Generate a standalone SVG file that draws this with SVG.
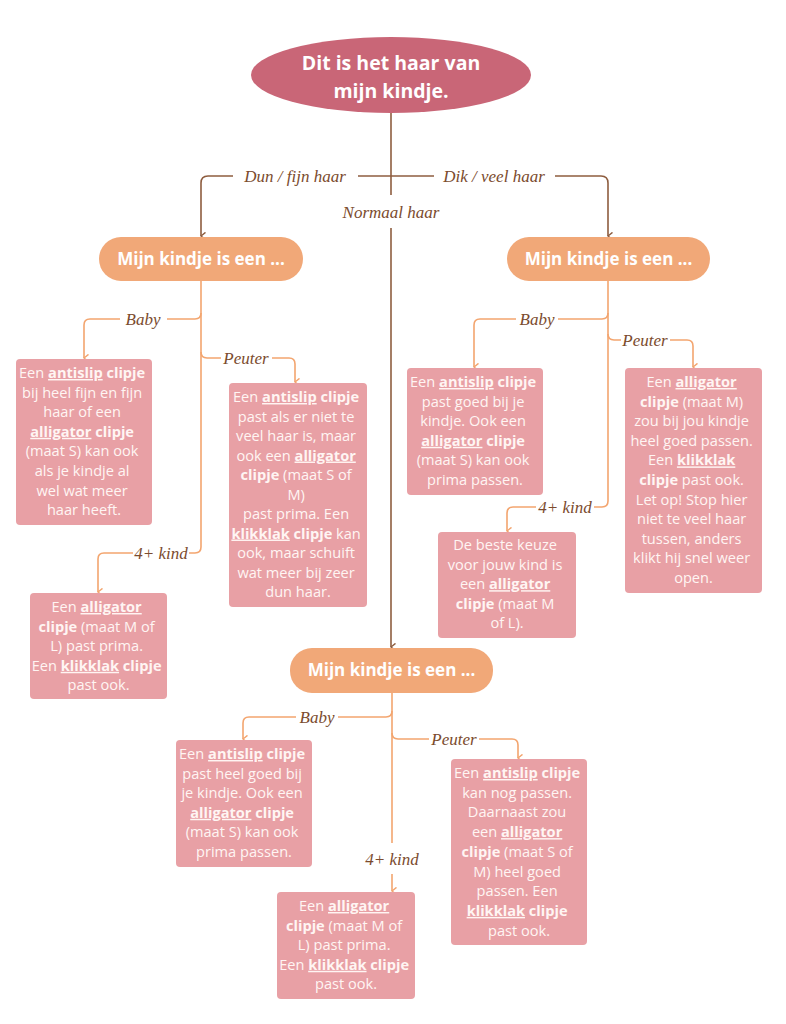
<svg xmlns="http://www.w3.org/2000/svg" width="786" height="1024" viewBox="0 0 786 1024">
<defs>
<style>
.bg{fill:#ffffff}
.box{fill:#e8a0a5}
.pill{fill:#f1a878}
.top{fill:#c96677}
.bt{font-family:"Open Sans","Lato",sans-serif;font-size:14.6px;fill:#fff5f3;text-anchor:middle}
.b{font-weight:bold}
.u{font-weight:bold;text-decoration:underline}
.pt{font-family:"Open Sans","Lato",sans-serif;font-size:17px;font-weight:bold;fill:#ffffff;text-anchor:middle}
.tt{font-family:"Open Sans","Lato",sans-serif;font-size:19.5px;font-weight:bold;fill:#ffffff;text-anchor:middle}
.lab{font-family:"Liberation Serif",serif;font-style:italic;font-size:17px;fill:#7b4b2e;text-anchor:middle}
.cb{fill:none;stroke:#8e5d3f;stroke-width:1.6}
.co{fill:none;stroke:#f3a56f;stroke-width:1.6}
</style>
<marker id="ab" viewBox="0 0 10 10" refX="5" refY="9" markerWidth="9" markerHeight="9" orient="auto-start-reverse" markerUnits="userSpaceOnUse">
<path d="M1,4 L5,9 L9,4" fill="none" stroke="#8e5d3f" stroke-width="1.6"/>
</marker>
<marker id="ao" viewBox="0 0 10 10" refX="5" refY="9" markerWidth="9" markerHeight="9" orient="auto-start-reverse" markerUnits="userSpaceOnUse">
<path d="M1,4 L5,9 L9,4" fill="none" stroke="#f3a56f" stroke-width="1.6"/>
</marker>
</defs>
<rect class="bg" x="0" y="0" width="786" height="1024"/>

<g id="connectors">
<path class="cb" d="M391,113 V195"/>
<path class="cb" d="M358,176 H434"/>
<path class="cb" d="M391,228 V647" marker-end="url(#ab)"/>
<path class="cb" d="M233,176 H208 Q201,176 201,183 V236" marker-end="url(#ab)"/>
<path class="cb" d="M555,176 H601 Q608,176 608,183 V236" marker-end="url(#ab)"/>

<path class="co" d="M201,281 V547 Q201,553 195,553 H189"/>
<path class="co" d="M133,553 H104 Q98,553 98,559 V592" marker-end="url(#ao)"/>
<path class="co" d="M201,313 Q201,319 195,319 H167"/>
<path class="co" d="M120,319 H90 Q84,319 84,325 V358" marker-end="url(#ao)"/>
<path class="co" d="M201,352 Q201,358 207,358 H221"/>
<path class="co" d="M272,358 H289 Q295,358 295,364 V382" marker-end="url(#ao)"/>

<path class="co" d="M608,281 V501 Q608,507 602,507 H594"/>
<path class="co" d="M536,507 H513 Q507,507 507,513 V531" marker-end="url(#ao)"/>
<path class="co" d="M608,313 Q608,319 602,319 H558"/>
<path class="co" d="M516,319 H480 Q474,319 474,325 V367" marker-end="url(#ao)"/>
<path class="co" d="M608,334 Q608,340 614,340 H621"/>
<path class="co" d="M670,340 H687 Q693,340 693,346 V367" marker-end="url(#ao)"/>

<path class="co" d="M392,693 V843"/>
<path class="co" d="M392,874 V891" marker-end="url(#ao)"/>
<path class="co" d="M392,711 Q392,717 386,717 H338"/>
<path class="co" d="M296,717 H249 Q243,717 243,723 V739" marker-end="url(#ao)"/>
<path class="co" d="M392,733 Q392,739 398,739 H429"/>
<path class="co" d="M479,739 H512 Q518,739 518,745 V758" marker-end="url(#ao)"/>

<text class="lab" x="295" y="182">Dun / fijn haar</text>
<text class="lab" x="494" y="182">Dik / veel haar</text>
<text class="lab" x="391" y="218">Normaal haar</text>
<text class="lab" x="143" y="325">Baby</text>
<text class="lab" x="246" y="364">Peuter</text>
<text class="lab" x="161" y="559">4+ kind</text>
<text class="lab" x="537" y="325">Baby</text>
<text class="lab" x="645" y="346">Peuter</text>
<text class="lab" x="565" y="513">4+ kind</text>
<text class="lab" x="317" y="723">Baby</text>
<text class="lab" x="454" y="745">Peuter</text>
<text class="lab" x="392" y="865">4+ kind</text>
</g>

<g id="root">
<ellipse class="top" cx="391" cy="75" rx="140" ry="38"/>
<text class="tt" x="391" y="70">Dit is het haar van</text>
<text class="tt" x="391" y="98">mijn kindje.</text>
</g>

<g id="pill-left">
<rect class="pill" x="99" y="237" width="204" height="44" rx="22"/>
<text class="pt" x="201" y="265">Mijn kindje is een ...</text>
</g>
<g id="pill-right">
<rect class="pill" x="507" y="237" width="203" height="44" rx="22"/>
<text class="pt" x="608.5" y="265">Mijn kindje is een ...</text>
</g>
<g id="pill-bottom">
<rect class="pill" x="290" y="648" width="203" height="45" rx="22"/>
<text class="pt" x="391.5" y="676">Mijn kindje is een ...</text>
</g>

<g id="left-baby">
<rect class="box" x="16" y="359" width="136" height="166" rx="4"/>
<text class="bt" x="84" y="378">
<tspan x="84">Een <tspan class="u">antislip</tspan> <tspan class="b">clipje</tspan></tspan>
<tspan x="84" dy="19.6">bij heel fijn en fijn</tspan>
<tspan x="84" dy="19.6">haar of een</tspan>
<tspan x="84" dy="19.6"><tspan class="u">alligator</tspan> <tspan class="b">clipje</tspan></tspan>
<tspan x="84" dy="19.6">(maat S) kan ook</tspan>
<tspan x="84" dy="19.6">als je kindje al</tspan>
<tspan x="84" dy="19.6">wel wat meer</tspan>
<tspan x="84" dy="19.6">haar heeft.</tspan>
</text>
</g>

<g id="left-peuter">
<rect class="box" x="229" y="383" width="138" height="224" rx="4"/>
<text class="bt" x="298" y="402">
<tspan x="298">Een <tspan class="u">antislip</tspan> <tspan class="b">clipje</tspan></tspan>
<tspan x="298" dy="19.5">past als er niet te</tspan>
<tspan x="298" dy="19.5">veel haar is, maar</tspan>
<tspan x="298" dy="19.5">ook een <tspan class="u">alligator</tspan></tspan>
<tspan x="298" dy="19.5"><tspan class="b">clipje</tspan> (maat S of</tspan>
<tspan x="298" dy="19.5">M)</tspan>
<tspan x="298" dy="19.5">past prima. Een</tspan>
<tspan x="298" dy="19.5"><tspan class="u">klikklak</tspan> <tspan class="b">clipje</tspan> kan</tspan>
<tspan x="298" dy="19.5">ook, maar schuift</tspan>
<tspan x="298" dy="19.5">wat meer bij zeer</tspan>
<tspan x="298" dy="19.5">dun haar.</tspan>
</text>
</g>

<g id="left-kind">
<rect class="box" x="30" y="593" width="137" height="106" rx="4"/>
<text class="bt" x="98.5" y="612">
<tspan x="98.5">Een <tspan class="u">alligator</tspan></tspan>
<tspan x="98.5" dy="19.6"><tspan class="b">clipje</tspan> (maat M of</tspan>
<tspan x="98.5" dy="19.6">L) past prima.</tspan>
<tspan x="98.5" dy="19.6">Een <tspan class="u">klikklak</tspan> <tspan class="b">clipje</tspan></tspan>
<tspan x="98.5" dy="19.6">past ook.</tspan>
</text>
</g>

<g id="right-baby">
<rect class="box" x="407" y="368" width="136" height="127" rx="4"/>
<text class="bt" x="475" y="387">
<tspan x="475">Een <tspan class="u">antislip</tspan> <tspan class="b">clipje</tspan></tspan>
<tspan x="475" dy="19.6">past goed bij je</tspan>
<tspan x="475" dy="19.6">kindje. Ook een</tspan>
<tspan x="475" dy="19.6"><tspan class="u">alligator</tspan> <tspan class="b">clipje</tspan></tspan>
<tspan x="475" dy="19.6">(maat S) kan ook</tspan>
<tspan x="475" dy="19.6">prima passen.</tspan>
</text>
</g>

<g id="right-peuter">
<rect class="box" x="625" y="368" width="137" height="225" rx="4"/>
<text class="bt" x="693.5" y="387">
<tspan x="693.5">Een <tspan class="u">alligator</tspan></tspan>
<tspan x="693.5" dy="19.6"><tspan class="b">clipje</tspan> (maat M)</tspan>
<tspan x="693.5" dy="19.6">zou bij jou kindje</tspan>
<tspan x="693.5" dy="19.6">heel goed passen.</tspan>
<tspan x="693.5" dy="19.6">Een <tspan class="u">klikklak</tspan></tspan>
<tspan x="693.5" dy="19.6"><tspan class="b">clipje</tspan> past ook.</tspan>
<tspan x="693.5" dy="19.6">Let op! Stop hier</tspan>
<tspan x="693.5" dy="19.6">niet te veel haar</tspan>
<tspan x="693.5" dy="19.6">tussen, anders</tspan>
<tspan x="693.5" dy="19.6">klikt hij snel weer</tspan>
<tspan x="693.5" dy="19.6">open.</tspan>
</text>
</g>

<g id="right-kind">
<rect class="box" x="438" y="532" width="138" height="106" rx="4"/>
<text class="bt" x="507" y="550">
<tspan x="507">De beste keuze</tspan>
<tspan x="507" dy="19.6">voor jouw kind is</tspan>
<tspan x="507" dy="19.6">een <tspan class="u">alligator</tspan></tspan>
<tspan x="507" dy="19.6"><tspan class="b">clipje</tspan> (maat M</tspan>
<tspan x="507" dy="19.6">of L).</tspan>
</text>
</g>

<g id="bottom-baby">
<rect class="box" x="176" y="740" width="136" height="127" rx="4"/>
<text class="bt" x="244" y="759">
<tspan x="244">Een <tspan class="u">antislip</tspan> <tspan class="b">clipje</tspan></tspan>
<tspan x="244" dy="19.6">past heel goed bij</tspan>
<tspan x="244" dy="19.6">je kindje. Ook een</tspan>
<tspan x="244" dy="19.6"><tspan class="u">alligator</tspan> <tspan class="b">clipje</tspan></tspan>
<tspan x="244" dy="19.6">(maat S) kan ook</tspan>
<tspan x="244" dy="19.6">prima passen.</tspan>
</text>
</g>

<g id="bottom-peuter">
<rect class="box" x="451" y="759" width="136" height="186" rx="4"/>
<text class="bt" x="519" y="778">
<tspan x="519">Een <tspan class="u">antislip</tspan> <tspan class="b">clipje</tspan></tspan>
<tspan x="519" dy="19.7">kan nog passen.</tspan>
<tspan x="519" dy="19.7">Daarnaast zou</tspan>
<tspan x="519" dy="19.7">een <tspan class="u">alligator</tspan></tspan>
<tspan x="519" dy="19.7"><tspan class="b">clipje</tspan> (maat S of</tspan>
<tspan x="519" dy="19.7">M) heel goed</tspan>
<tspan x="519" dy="19.7">passen. Een</tspan>
<tspan x="519" dy="19.7"><tspan class="u">klikklak</tspan> <tspan class="b">clipje</tspan></tspan>
<tspan x="519" dy="19.7">past ook.</tspan>
</text>
</g>

<g id="bottom-kind">
<rect class="box" x="277" y="892" width="138" height="107" rx="4"/>
<text class="bt" x="346" y="911">
<tspan x="346">Een <tspan class="u">alligator</tspan></tspan>
<tspan x="346" dy="19.6"><tspan class="b">clipje</tspan> (maat M of</tspan>
<tspan x="346" dy="19.6">L) past prima.</tspan>
<tspan x="346" dy="19.6">Een <tspan class="u">klikklak</tspan> <tspan class="b">clipje</tspan></tspan>
<tspan x="346" dy="19.6">past ook.</tspan>
</text>
</g>
</svg>
